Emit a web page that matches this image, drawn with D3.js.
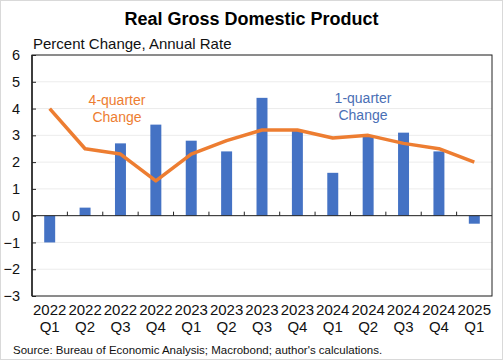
<!DOCTYPE html>
<html><head><meta charset="utf-8">
<script src="https://cdn.jsdelivr.net/npm/d3@7"></script>
<style>
body{margin:0;background:#fff;}
svg{display:block;font-family:"Liberation Sans",Arial,sans-serif;}
</style></head>
<body>
<script>
const years = ["2022","2022","2022","2022","2023","2023","2023","2023","2024","2024","2024","2024","2025"];
const quarters = ["Q1","Q2","Q3","Q4","Q1","Q2","Q3","Q4","Q1","Q2","Q3","Q4","Q1"];
const oneQuarter = [-1.0,0.3,2.7,3.4,2.8,2.4,4.4,3.2,1.6,3.0,3.1,2.4,-0.3];
const fourQuarter = [4.0,2.5,2.3,1.3,2.3,2.8,3.2,3.2,2.9,3.0,2.7,2.5,2.0];
const yTicks = [-3,-2,-1,0,1,2,3,4,5,6];

const W=504,H=360;
const m={left:32,right:12,top:55,bottom:64};
const svg=d3.select("body").append("svg").attr("width",W).attr("height",H);
svg.append("rect").attr("x",0.5).attr("y",0.5).attr("width",W-2).attr("height",H-1)
  .attr("fill","#fff").attr("stroke","#d9d9d9");

const cats=years.map((y,i)=>i);
const x=d3.scaleBand().domain(cats).range([m.left,W-m.right]).paddingInner(0.69).paddingOuter(0.345);
const xb=d3.scaleBand().domain(cats).range([m.left,W-m.right]);
const y=d3.scaleLinear().domain([-3,6]).range([H-m.bottom,m.top]);

// gridlines
svg.append("g").selectAll("line").data(yTicks).join("line")
  .attr("x1",m.left).attr("x2",W-m.right)
  .attr("y1",d=>y(d)).attr("y2",d=>y(d))
  .attr("stroke","#ececec").attr("stroke-width",1);

// bars
svg.append("g").selectAll("rect").data(oneQuarter).join("rect")
  .attr("x",(d,i)=>x(i)).attr("width",x.bandwidth())
  .attr("y",d=>y(Math.max(0,d))).attr("height",d=>Math.abs(y(d)-y(0)))
  .attr("fill","#4472C4");

// frame
svg.append("rect").attr("x",m.left).attr("y",y(6)).attr("width",W-m.right-m.left).attr("height",y(-3)-y(6))
  .attr("fill","none").attr("stroke","#222").attr("stroke-width",1);
svg.append("line").attr("x1",m.left).attr("x2",m.left).attr("y1",y(6)).attr("y2",y(-3)).attr("stroke","#222").attr("stroke-width",1.5);

// zero line
svg.append("line").attr("x1",m.left).attr("x2",W-m.right).attr("y1",y(0)).attr("y2",y(0))
  .attr("stroke","#222").attr("stroke-width",1);
// category ticks
svg.append("g").selectAll("line").data(cats.slice(1)).join("line")
  .attr("x1",d=>xb(d)).attr("x2",d=>xb(d)).attr("y1",y(0)).attr("y2",y(0)-4)
  .attr("stroke","#222");

// y axis
const yAxis=d3.axisLeft(y).tickValues(yTicks).tickSize(-4).tickPadding(12).tickFormat(d3.format("d"));
const ga=svg.append("g").attr("transform",`translate(${m.left},0)`).call(yAxis);
ga.select(".domain").remove();
ga.selectAll("line").attr("stroke","#222");
ga.selectAll("text").attr("font-size",14.5).attr("fill","#111").attr("font-family","Liberation Sans, Arial, sans-serif");

// line
const line=d3.line().x((d,i)=>x(i)+x.bandwidth()/2).y(d=>y(d));
svg.append("path").datum(fourQuarter).attr("d",line).attr("fill","none")
  .attr("stroke","#ED7D31").attr("stroke-width",3.5).attr("stroke-linejoin","round");

// x labels
const xl=svg.append("g").selectAll("g").data(cats).join("g")
  .attr("transform",d=>`translate(${xb(d)+xb.bandwidth()/2},0)`);
xl.append("text").attr("y",315).attr("text-anchor","middle").attr("font-size",15).attr("fill","#111").text(d=>years[d]);
xl.append("text").attr("y",332).attr("text-anchor","middle").attr("font-size",15).attr("fill","#111").text(d=>quarters[d]);

// titles
svg.append("text").attr("x",251.5).attr("y",25).attr("text-anchor","middle").attr("font-size",18)
  .attr("font-weight","bold").attr("fill","#000").text("Real Gross Domestic Product");
svg.append("text").attr("x",33).attr("y",49).attr("font-size",15).attr("fill","#111").text("Percent Change, Annual Rate");
svg.append("text").attr("x",13).attr("y",354).attr("font-size",11.5).attr("fill","#111")
  .text("Source: Bureau of Economic Analysis; Macrobond; author's calculations.");

// annotations
const a1=svg.append("text").attr("text-anchor","middle").attr("font-size",14).attr("fill","#ED7D31");
a1.append("tspan").attr("x",117).attr("y",105).text("4-quarter");
a1.append("tspan").attr("x",117).attr("y",122).text("Change");
const a2=svg.append("text").attr("text-anchor","middle").attr("font-size",14).attr("fill","#4A6FB5");
a2.append("tspan").attr("x",363).attr("y",103).text("1-quarter");
a2.append("tspan").attr("x",363).attr("y",120).text("Change");
</script>
</body></html>
